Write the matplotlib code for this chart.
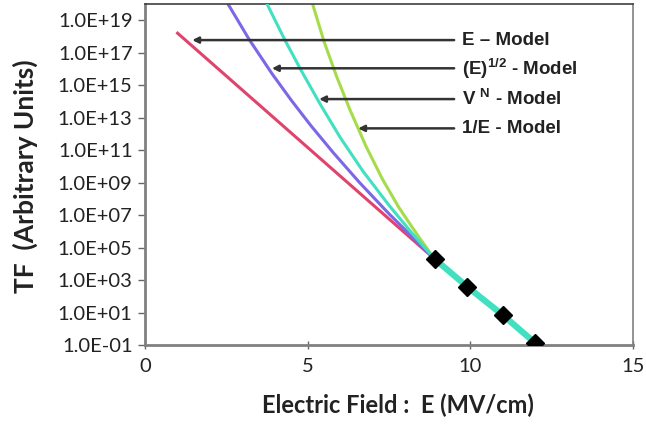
import math
import matplotlib
matplotlib.use("Agg")
import matplotlib.pyplot as plt
from matplotlib.ticker import FixedLocator, FuncFormatter

# measured points (black diamonds)
E_meas = [8.9, 9.9, 11.0, 12.0]
TF_meas = [2.0e4, 4.0e2, 7.0e0, 1.3e-1]

# model curves
E_lin = [1.0, 8.9]
TF_lin = [1.6e18, 2.0e4]

E_sqrt = [2.55, 3.2, 3.9, 4.5, 5.1, 5.8, 6.6, 7.5, 8.9]
TF_sqrt = [1e20, 6.6e17, 5.2e15, 1.15e14, 3.2e12, 6.5e10, 9.8e8, 1.2e7, 2.0e4]

E_vn = [3.75, 4.3, 4.8, 5.4, 6.0, 6.7, 7.5, 8.2, 8.9]
TF_vn = [1e20, 6e17, 8e15, 6e13, 6e11, 5e9, 4e7, 8e5, 2.0e4]

E_inv = [5.15, 5.5, 5.9, 6.3, 6.8, 7.3, 7.8, 8.4, 8.9]
TF_inv = [1e20, 5e17, 3e15, 3e13, 1.6e11, 1.6e9, 3e7, 5e5, 2.0e4]

y_ticks = [1e-1, 1e1, 1e3, 1e5, 1e7, 1e9, 1e11, 1e13, 1e15, 1e17, 1e19]
x_ticks = [0, 5, 10, 15]

labels = ["E \u2013 Model", r"(E)$^{\mathbf{1/2}}$ - Model",
          r"V $^{\mathbf{N}}$ - Model", "1/E - Model"]
label_y = [6e17, 1.1e16, 1.4e14, 2.2e12]
arrow_x = [1.45, 3.9, 5.35, 6.55]

plt.rcParams['font.family'] = ['Lato', 'DejaVu Sans']
plt.rcParams['mathtext.fontset'] = 'custom'
plt.rcParams['mathtext.rm'] = 'Liberation Sans:bold'
plt.rcParams['mathtext.bf'] = 'Liberation Sans:bold'

fig = plt.figure(figsize=(6.46, 4.25), dpi=100)
ax = fig.add_axes([0.2245, 0.188, 0.7555, 0.8026])

ax.plot(E_lin, TF_lin, color='#e0446c', lw=2.2, zorder=2)
ax.plot(E_sqrt, TF_sqrt, color='#7b68e6', lw=2.2, zorder=2)
ax.plot(E_inv, TF_inv, color='#a6dc4a', lw=2.2, zorder=2)
ax.plot(E_vn, TF_vn, color='#40e0c0', lw=2.2, zorder=3)
ax.plot(E_meas, TF_meas, color='#40e0c0', lw=4.5, zorder=4)
ax.plot(E_meas, TF_meas, 'D', color='black', markersize=9, zorder=5)

# arrows with model names
for txt, y, xa in zip(labels, label_y, arrow_x):
    ax.annotate("", xy=(xa, y), xytext=(9.5, y),
                arrowprops=dict(arrowstyle='-|>', color='#333333', lw=1.8,
                                mutation_scale=9, shrinkA=0, shrinkB=0))
    ax.text(9.75, y, txt, fontsize=13.5, fontweight='bold', family='Liberation Sans',
            va='center', ha='left', color='#222222')

ax.set_yscale('log')
ax.set_xlim(0, 15)
ax.set_ylim(1e-1, 1e20)
ax.yaxis.set_major_locator(FixedLocator(y_ticks))
ax.yaxis.set_minor_locator(FixedLocator([]))
ax.yaxis.set_major_formatter(FuncFormatter(
    lambda v, p: "1.0E%+03d" % round(math.log10(v))))
ax.set_xticks(x_ticks)

ax.tick_params(axis='y', direction='out', length=5, width=1, color='#666666',
               labelsize=14.5, pad=4, labelcolor='#222222')
ax.tick_params(axis='x', direction='inout', length=6, width=1, color='#666666',
               labelsize=14.5, pad=6, labelcolor='#222222')

for side in ['left', 'bottom']:
    ax.spines[side].set_color('#808080')
    ax.spines[side].set_linewidth(2)
ax.spines['top'].set_color('#404040')
ax.spines['top'].set_linewidth(1.2)
ax.spines['right'].set_color('#808080')
ax.spines['right'].set_linewidth(1.2)

fig.text(398 / 646, 1 - 405 / 425, "Electric Field :  E (MV/cm)", fontsize=17,
         fontweight='bold', ha='center', va='center', color='#222222')
fig.text(25 / 646, 1 - 176 / 425, "TF  (Arbitrary Units)", fontsize=19,
         fontweight='bold', ha='center', va='center', rotation=90, color='#222222')

plt.savefig("out.png", dpi=100)
